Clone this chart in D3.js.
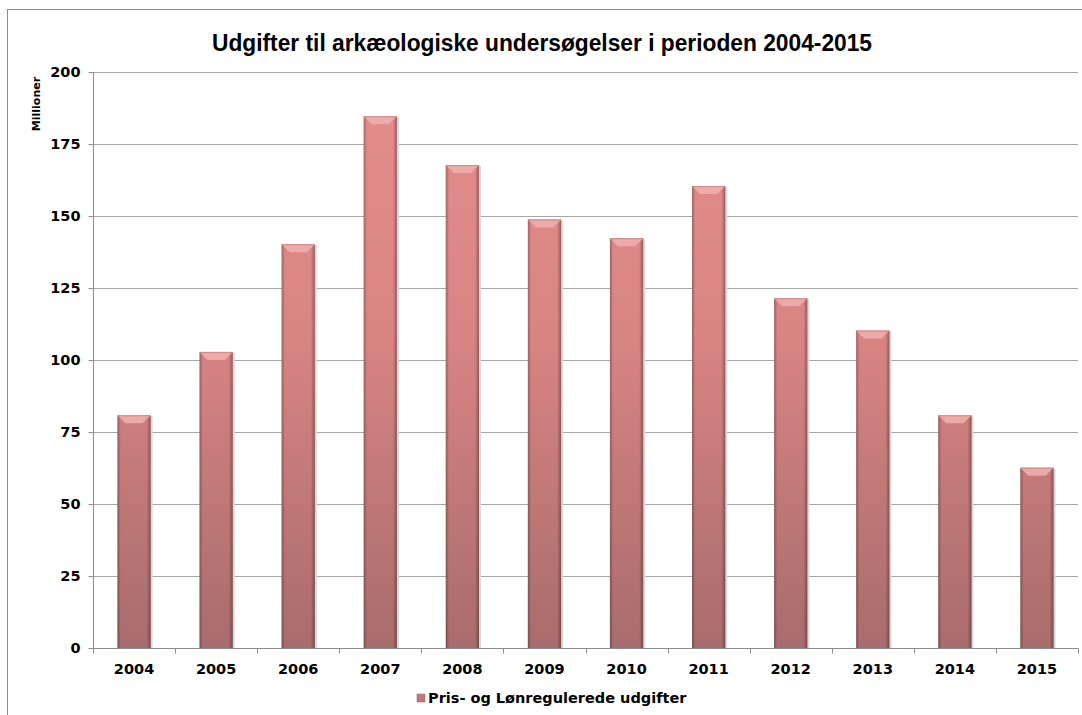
<!DOCTYPE html>
<html>
<head>
<meta charset="utf-8">
<script src="https://cdn.jsdelivr.net/npm/d3@7"></script>
<style>
  body { margin: 0; background: #fff; }
  text { font-family: "DejaVu Sans", Verdana, sans-serif; }
</style>
</head>
<body>
<div id="chart"></div>
<script>
var width = 1082, height = 715;
var margin = {top: 72, left: 93, right: 4, bottom: 67};

var years = ["2004", "2005", "2006", "2007", "2008", "2009", "2010", "2011", "2012", "2013", "2014", "2015"];
var values = [80.8, 102.8, 140.2, 184.6, 167.7, 148.8, 142.3, 160.4, 121.4, 110.2, 80.8, 62.6];
var yTicks = [0, 25, 50, 75, 100, 125, 150, 175, 200];
var title = "Udgifter til arkæologiske undersøgelser i perioden 2004-2015";
var seriesName = "Pris- og Lønregulerede udgifter";
var unitLabel = "Millioner";

var svg = d3.select("#chart").append("svg")
    .attr("width", width)
    .attr("height", height);

// outer frame
svg.append("rect")
    .attr("x", 7.5).attr("y", 9.5)
    .attr("width", width + 10).attr("height", height + 10)
    .attr("fill", "#fff")
    .attr("stroke", "#8c8c8c")
    .attr("stroke-width", 1);

var defs = svg.append("defs");
var grad = defs.append("linearGradient")
    .attr("id", "barGrad")
    .attr("gradientUnits", "userSpaceOnUse")
    .attr("x1", 0).attr("y1", 72).attr("x2", 0).attr("y2", 648);
grad.append("stop").attr("offset", "0%").attr("stop-color", "#e38e8c");
grad.append("stop").attr("offset", "45%").attr("stop-color", "#d98584");
grad.append("stop").attr("offset", "100%").attr("stop-color", "#a96c6c");

var sideGrad = defs.append("linearGradient")
    .attr("id", "sideGrad")
    .attr("x1", 0).attr("y1", 0).attr("x2", 1).attr("y2", 0);
sideGrad.append("stop").attr("offset", "0%").attr("stop-color", "#000").attr("stop-opacity", 0.28);
sideGrad.append("stop").attr("offset", "10%").attr("stop-color", "#000").attr("stop-opacity", 0);
sideGrad.append("stop").attr("offset", "88%").attr("stop-color", "#000").attr("stop-opacity", 0);
sideGrad.append("stop").attr("offset", "100%").attr("stop-color", "#000").attr("stop-opacity", 0.32);

var x = d3.scaleBand()
    .domain(years)
    .range([margin.left, width - margin.right])
    .paddingInner(0.595)
    .paddingOuter(0.2975);

var y = d3.scaleLinear()
    .domain([0, 200])
    .range([height - margin.bottom, margin.top]);

// gridlines
svg.append("g")
    .selectAll("line")
    .data(yTicks.filter(function(d) { return d > 0; }))
    .enter().append("line")
    .attr("x1", margin.left)
    .attr("x2", width - margin.right)
    .attr("y1", function(d) { return Math.round(y(d)) + 0.5; })
    .attr("y2", function(d) { return Math.round(y(d)) + 0.5; })
    .attr("stroke", "#a6a6a6")
    .attr("stroke-width", 1);

// bars with shadow, gradient, and top bevel
var bars = svg.append("g").selectAll("g")
    .data(values)
    .enter().append("g");

bars.append("rect")
    .attr("x", function(d, i) { return x(years[i]) + 2; })
    .attr("y", function(d) { return y(d) + 1; })
    .attr("width", x.bandwidth())
    .attr("height", function(d) { return y(0) - y(d) - 1; })
    .attr("fill", "#d8d8d8");

bars.append("rect")
    .attr("x", function(d, i) { return x(years[i]); })
    .attr("y", function(d) { return y(d); })
    .attr("width", x.bandwidth())
    .attr("height", function(d) { return y(0) - y(d); })
    .attr("fill", "url(#barGrad)");

bars.append("rect")
    .attr("x", function(d, i) { return x(years[i]); })
    .attr("y", function(d) { return y(d); })
    .attr("width", x.bandwidth())
    .attr("height", function(d) { return y(0) - y(d); })
    .attr("fill", "url(#sideGrad)");

bars.append("path")
    .attr("d", function(d, i) {
        var x0 = x(years[i]), x1 = x0 + x.bandwidth(), t = y(d), b = 8;
        return "M" + x0 + "," + t + "L" + x1 + "," + t +
            "L" + (x1 - b) + "," + (t + b) + "L" + (x0 + b) + "," + (t + b) + "Z";
    })
    .attr("fill", "#f0aeac")
    .attr("opacity", 0.9);

bars.append("line")
    .attr("x1", function(d, i) { return x(years[i]); })
    .attr("x2", function(d, i) { return x(years[i]) + x.bandwidth(); })
    .attr("y1", function(d) { return y(d) + 0.5; })
    .attr("y2", function(d) { return y(d) + 0.5; })
    .attr("stroke", "#c98a88")
    .attr("stroke-width", 1);

// y axis
var yAxis = d3.axisLeft(y)
    .tickValues(yTicks)
    .tickSize(5)
    .tickPadding(8);

var yg = svg.append("g")
    .attr("transform", "translate(" + (margin.left + 0.5) + ",0)")
    .call(yAxis);
yg.select(".domain").attr("stroke", "#8c8c8c").attr("d", "M0," + margin.top + "V" + y(0));
yg.selectAll(".tick line").attr("stroke", "#8c8c8c");
yg.selectAll("text")
    .attr("font-size", 14.5)
    .attr("font-weight", "bold")
    .attr("fill", "#000");

// x axis, ticks at band boundaries
var xg = svg.append("g")
    .attr("transform", "translate(0," + (Math.round(y(0)) + 0.5) + ")");
xg.append("line")
    .attr("x1", margin.left).attr("x2", width - margin.right)
    .attr("stroke", "#8c8c8c");
var bounds = years.map(function(d) { return x(d) - x.step() * x.paddingInner() / 2; });
bounds.push(width - margin.right);
xg.selectAll(".xtick")
    .data(bounds)
    .enter().append("line")
    .attr("x1", function(d) { return Math.round(d) + 0.5; })
    .attr("x2", function(d) { return Math.round(d) + 0.5; })
    .attr("y1", 0).attr("y2", 5)
    .attr("stroke", "#8c8c8c");
xg.selectAll(".xlabel")
    .data(years)
    .enter().append("text")
    .attr("x", function(d) { return x(d) + x.bandwidth() / 2; })
    .attr("y", 25)
    .attr("text-anchor", "middle")
    .attr("font-size", 14.5)
    .attr("font-weight", "bold")
    .attr("fill", "#000")
    .text(function(d) { return d; });

// unit label
svg.append("text")
    .attr("transform", "translate(40,104) rotate(-90)")
    .attr("text-anchor", "middle")
    .attr("font-size", 11)
    .attr("font-weight", "bold")
    .attr("fill", "#000")
    .text(unitLabel);

// title
svg.append("text")
    .attr("x", 542)
    .attr("y", 51)
    .attr("text-anchor", "middle")
    .style("font-family", "'Liberation Sans', Arial, sans-serif")
    .attr("font-size", 24)
    .attr("font-weight", "bold")
    .attr("textLength", 660)
    .attr("lengthAdjust", "spacingAndGlyphs")
    .attr("fill", "#000")
    .text(title);

// legend
var legend = svg.append("g").attr("transform", "translate(417,694)");
legend.append("rect")
    .attr("width", 8).attr("height", 8)
    .attr("fill", "#c07a7a")
    .attr("stroke", "#9e6060")
    .attr("stroke-width", 0.5);
legend.append("text")
    .attr("x", 11)
    .attr("y", 9)
    .attr("font-size", 14.5)
    .attr("font-weight", "bold")
    .attr("fill", "#000")
    .text(seriesName);
</script>
</body>
</html>
